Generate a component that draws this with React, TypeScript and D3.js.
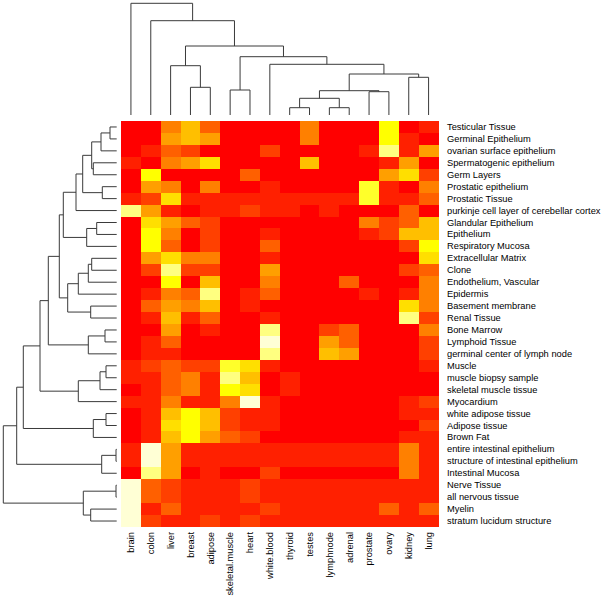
import React from "react";
import * as d3 from "d3";

const colLabels = ["brain","colon","liver","breast","adipose","skeletal.muscle","heart","white.blood","thyroid","testes","lymphnode","adrenal","prostate","ovary","kidney","lung"];

const rowLabels = [
  "Testicular Tissue","Germinal Epithelium","ovarian surface epithelium","Spermatogenic epithelium","Germ Layers",
  "Prostatic epithelium","Prostatic Tissue","purkinje cell layer of cerebellar cortex","Glandular Epithelium","Epithelium",
  "Respiratory Mucosa","Extracellular Matrix","Clone","Endothelium, Vascular","Epidermis","Basement membrane","Renal Tissue",
  "Bone Marrow","Lymphoid Tissue","germinal center of lymph node","Muscle","muscle biopsy sample","skeletal muscle tissue",
  "Myocardium","white adipose tissue","Adipose tissue","Brown Fat","entire intestinal epithelium","structure of intestinal epithelium",
  "Intestinal Mucosa","Nerve Tissue","all nervous tissue","Myelin","stratum lucidum structure"
];

// heat.colors(12) level per cell (0 = red ... 11 = pale cream)
const levels: number[][] = [
  [0,0,4,6,3,0,0,0, 0,4,0,0,0,8,0,1],
  [0,0,5,6,5,0,0,0, 0,4,0,0,0,8,1,0],
  [0,1,3,2,0,0,0,2, 0,0,0,0,1,10,1,5],
  [1,0,4,5,7,0,0,0, 0,6,0,0,0,1,5,0],
  [0,8,0,0,0,0,3,0, 0,0,0,0,0,5,7,2],
  [0,5,4,0,4,0,0,1, 0,0,0,0,9,1,0,4],
  [1,2,7,1,1,1,1,1, 1,1,1,1,9,1,1,3],
  [10,5,1,0,1,1,2,1, 1,0,1,0,0,0,3,0],
  [0,7,5,3,2,0,0,0, 0,0,0,0,4,2,3,6],
  [0,8,4,0,2,0,0,1, 0,0,0,0,1,2,6,6],
  [0,8,3,0,2,0,0,3, 0,0,0,0,0,0,2,8],
  [0,5,7,4,4,0,0,1, 0,0,0,0,0,0,0,7],
  [0,2,10,2,2,0,0,5, 0,0,0,0,0,0,2,3],
  [0,0,8,0,6,0,0,4, 0,0,0,3,0,0,0,4],
  [0,1,4,3,10,0,1,3, 0,0,0,0,1,0,1,4],
  [0,3,5,4,6,0,1,0, 0,0,0,0,0,0,7,4],
  [0,1,6,1,3,0,0,1, 0,0,0,0,0,0,10,2],
  [0,0,5,0,1,0,0,10, 0,0,2,3,0,0,0,4],
  [0,1,3,0,0,0,0,11, 0,0,5,3,0,0,0,2],
  [0,1,1,0,0,0,0,10, 0,0,6,5,0,0,0,2],
  [1,2,3,2,2,9,7,1, 0,0,0,0,0,0,0,1],
  [1,1,3,4,1,10,6,0, 1,0,0,0,0,0,0,0],
  [0,1,3,4,1,8,7,0, 1,0,0,0,0,0,0,0],
  [1,1,4,1,1,4,11,1, 0,0,0,0,0,0,1,2],
  [0,1,6,8,6,2,1,1, 0,0,0,0,0,0,1,1],
  [0,1,7,8,6,2,1,1, 0,0,0,0,0,0,0,2],
  [0,1,6,8,5,3,2,0, 0,0,0,0,0,0,1,1],
  [1,11,5,1,1,1,1,1, 1,1,1,1,1,1,4,1],
  [1,11,5,1,1,1,1,1, 1,1,1,1,1,1,4,1],
  [0,10,5,0,1,0,0,2, 0,0,0,0,0,0,4,1],
  [11,3,2,1,1,1,2,1, 1,1,1,1,1,1,1,1],
  [11,3,2,1,1,1,2,1, 1,1,1,1,1,1,1,1],
  [11,1,3,1,1,1,1,2, 1,1,1,1,1,3,1,3],
  [11,2,1,1,2,1,2,1, 1,1,1,1,1,1,1,1],
];

const heatColors = ["#FF0000","#FF2000","#FF4000","#FF6000","#FF8000","#FF9F00","#FFBF00","#FFDF00","#FFFF00","#FFFF2A","#FFFF80","#FFFFD5"];

// hclust-style merges: negative = leaf -(i+1), positive = earlier merge (1-based)
const rowMerge: [number, number][] = [
  [-1,-2],[1,-3],[-4,-5],[2,3],[-6,-7],[4,5],[6,-8],[-9,-10],[8,-11],[7,9],
  [-12,-13],[11,-14],[12,-15],[-16,-17],[13,14],[10,15],[-18,-19],[17,-20],[16,18],
  [-21,-22],[20,-23],[21,-24],[19,22],[-25,-26],[24,-27],[23,25],[-28,-29],[27,-30],[26,28],
  [-31,-32],[-33,-34],[30,31],[29,32]
];
const rowHeight = [6.7,15.7,23.4,25,14.4,34,40.7,20,30,53.4,25,28.4,38.4,26,49,57.4,11.7,28.4,68.4,10.7,16.7,38.4,76.7,10.7,23.4,93.4,0.7,15,100,0.7,26,33.4,113.4];

const colMerge: [number, number][] = [
  [-9,-10],[-11,-12],[1,2],[-13,-14],[3,4],[-15,-16],[5,6],[-8,7],[-6,-7],[9,8],[-4,-5],[-3,11],[12,10],[-2,13],[-1,14]
];
const colHeight = [7.3,7.3,16.7,23.3,24.3,37.7,41,50.7,25,58.3,27.7,49.3,69,94.3,111.7];

type Seg = { x1: number; y1: number; x2: number; y2: number };

function dendroSegments(
  merge: [number, number][], heights: number[], leafPos: (i: number) => number
): { segs: Seg[] } {
  const pos: number[] = [];
  const segs: Seg[] = [];
  const getPos = (k: number) => (k < 0 ? leafPos(-k - 1) : pos[k - 1]);
  const getH = (k: number) => (k < 0 ? 0 : heights[k - 1]);
  merge.forEach(([a, b], i) => {
    const pa = getPos(a), pb = getPos(b), h = heights[i];
    pos[i] = (pa + pb) / 2;
    // segments in (position, height) space
    segs.push({ x1: pa, y1: getH(a), x2: pa, y2: h });
    segs.push({ x1: pb, y1: getH(b), x2: pb, y2: h });
    segs.push({ x1: pa, y1: h, x2: pb, y2: h });
  });
  return { segs };
}

export default function App() {
  const W = 605, H = 600;
  const heatLeft = 121, heatRight = 438.5, heatTop = 121, heatBottom = 527;
  const x = d3.scaleBand<number>().domain(d3.range(colLabels.length)).range([heatLeft, heatRight]).padding(0);
  const y = d3.scaleBand<number>().domain(d3.range(rowLabels.length)).range([heatTop, heatBottom]).padding(0);
  const color = (v: number) => heatColors[Math.max(0, Math.min(heatColors.length - 1, v))];

  const rowH = d3.scaleLinear().domain([0, d3.max(rowHeight)!]).range([116.7, 3.3]);
  const colH = d3.scaleLinear().domain([0, d3.max(colHeight)!]).range([115, 3.3]);

  const rowSegs = dendroSegments(rowMerge, rowHeight, (i) => y(i)! + y.bandwidth() / 2).segs;
  const colSegs = dendroSegments(colMerge, colHeight, (i) => x(i)! + x.bandwidth() / 2).segs;

  const font = "'Liberation Sans', Arial, Helvetica, sans-serif";
  const fs = 9.3;

  return (
    <svg width={W} height={H} style={{ position: "absolute", left: 0, top: 0, background: "#fff" }}>
      <rect x={0} y={0} width={W} height={H} fill="#fff" />
      <g shapeRendering="crispEdges">
        {levels.map((row, r) =>
          row.map((v, c) => (
            <rect key={`${r}-${c}`} x={x(c)} y={y(r)} width={x.bandwidth() + 0.3} height={y.bandwidth() + 0.3} fill={color(v)} />
          ))
        )}
      </g>
      <g stroke="#3a3a3a" strokeWidth={1} fill="none">
        {rowSegs.map((s, i) => (
          <line key={`r${i}`} x1={rowH(s.y1)} y1={s.x1} x2={rowH(s.y2)} y2={s.x2} />
        ))}
        {colSegs.map((s, i) => (
          <line key={`c${i}`} x1={s.x1} y1={colH(s.y1)} x2={s.x2} y2={colH(s.y2)} />
        ))}
      </g>
      <g fontFamily={font} fontSize={fs} fill="#000">
        {rowLabels.map((l, i) => (
          <text key={l} x={447} y={y(i)! + y.bandwidth() / 2} dominantBaseline="central">{l}</text>
        ))}
        {colLabels.map((l, i) => {
          const cx = x(i)! + x.bandwidth() / 2 + 3.3;
          const cy = 532;
          return (
            <text key={l} transform={`translate(${cx},${cy}) rotate(-90)`} textAnchor="end">{l}</text>
          );
        })}
      </g>
    </svg>
  );
}
